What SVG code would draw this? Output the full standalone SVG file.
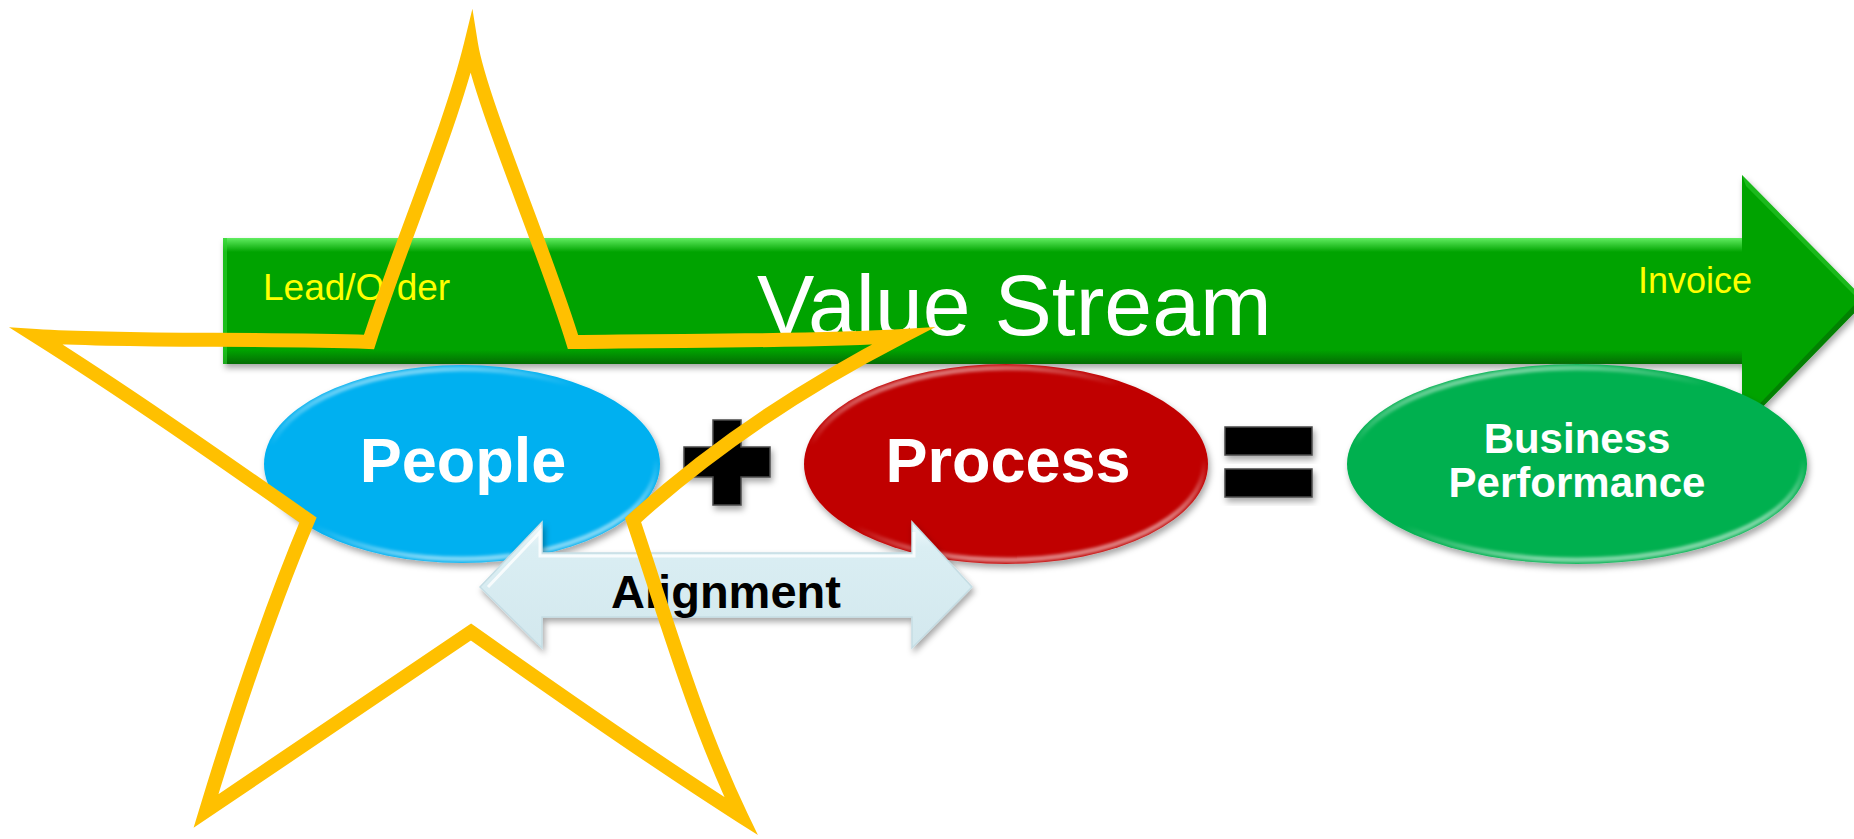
<svg xmlns="http://www.w3.org/2000/svg" width="1854" height="839" viewBox="0 0 1854 839">
  <defs>
    <filter id="shadow" x="-10%" y="-20%" width="120%" height="150%">
      <feDropShadow dx="2" dy="4" stdDeviation="3" flood-color="#000" flood-opacity="0.35"/>
    </filter>
    <filter id="soft" x="-10%" y="-10%" width="120%" height="120%">
      <feGaussianBlur stdDeviation="1.5"/>
    </filter>
    <linearGradient id="barTop" x1="0" y1="0" x2="0" y2="1">
      <stop offset="0" stop-color="#6CF56C" stop-opacity="0.9"/>
      <stop offset="1" stop-color="#6CF56C" stop-opacity="0"/>
    </linearGradient>
    <linearGradient id="barBottom" x1="0" y1="0" x2="0" y2="1">
      <stop offset="0" stop-color="#045F04" stop-opacity="0"/>
      <stop offset="1" stop-color="#045F04" stop-opacity="0.8"/>
    </linearGradient>
    <linearGradient id="rim" x1="0" y1="0" x2="0.4" y2="1">
      <stop offset="0" stop-color="#fff" stop-opacity="0.75"/>
      <stop offset="0.35" stop-color="#fff" stop-opacity="0"/>
      <stop offset="0.75" stop-color="#fff" stop-opacity="0"/>
      <stop offset="1" stop-color="#fff" stop-opacity="0.5"/>
    </linearGradient>
    <linearGradient id="alignFill" x1="0" y1="0" x2="0" y2="1">
      <stop offset="0" stop-color="#F2FAFC"/>
      <stop offset="0.2" stop-color="#DAEEF3"/>
      <stop offset="1" stop-color="#D3E8EE"/>
    </linearGradient>
    <style>
      .lbl { font-family: "Liberation Sans", Arial, sans-serif; }
      .node-text { font-family: "Liberation Sans", Arial, sans-serif; font-weight: bold; fill: #fff; text-anchor: middle; }
      .rim { fill: none; stroke: url(#rim); stroke-width: 5; filter: url(#soft); }
      .op { fill: #000; stroke: #4a4a4a; stroke-width: 1.5; filter: url(#shadow); }
    </style>
  </defs>

  <rect width="1854" height="839" fill="#fff"/>

  <!-- Value stream arrow -->
  <g id="value-stream">
    <path d="M223,238 H1742 V175 L1866,301 L1742,428 V364 H223 Z" fill="#06A306" filter="url(#shadow)"/>
    <rect x="223" y="238" width="1519" height="14" fill="url(#barTop)"/>
    <rect x="223" y="350" width="1519" height="14" fill="url(#barBottom)"/>
    <rect x="223" y="238" width="4" height="126" fill="#2ED02E" opacity="0.6"/>
    <path d="M1742,175 L1866,301 L1860,301 L1746,186 Z" fill="#35D035" opacity="0.5"/>
    <path d="M1742,428 L1866,301 L1858,301 L1746,418 Z" fill="#045F04" opacity="0.5"/>
    <text class="lbl" x="263" y="300" font-size="37" fill="#FFFF00">Lead/Order</text>
    <text class="lbl" x="757" y="335" font-size="86" fill="#fff">Value Stream</text>
    <text class="lbl" x="1638" y="293" font-size="36" fill="#FFFF00">Invoice</text>
  </g>

  <!-- People -->
  <g id="people">
    <ellipse cx="462" cy="464" rx="198" ry="99" fill="#00B0F0" filter="url(#shadow)"/>
    <ellipse class="rim" cx="462" cy="464" rx="194" ry="95"/>
    <text class="node-text" x="463" y="482" font-size="63">People</text>
  </g>

  <!-- Plus -->
  <g id="plus">
    <path class="op" d="M713,420 H741 V447 H770 V477 H741 V505 H713 V477 H684 V447 H713 Z"/>
  </g>

  <!-- Process -->
  <g id="process">
    <ellipse cx="1006" cy="464" rx="202" ry="100" fill="#C00000" filter="url(#shadow)"/>
    <ellipse class="rim" cx="1006" cy="464" rx="198" ry="96"/>
    <text class="node-text" x="1008" y="482" font-size="63">Process</text>
  </g>

  <!-- Equals -->
  <g id="equals">
    <rect class="op" x="1225" y="427" width="87" height="28"/>
    <rect class="op" x="1225" y="469" width="87" height="28"/>
  </g>

  <!-- Business Performance -->
  <g id="business-performance">
    <ellipse cx="1577" cy="464" rx="230" ry="100" fill="#00B050" filter="url(#shadow)"/>
    <ellipse class="rim" cx="1577" cy="464" rx="226" ry="96"/>
    <text class="node-text" x="1577" y="453" font-size="42">Business</text>
    <text class="node-text" x="1577" y="497" font-size="42">Performance</text>
  </g>

  <!-- Alignment double arrow -->
  <g id="connectors">
    <g id="alignment">
      <path d="M480,587 L542,522 V553 H912 V522 L972,587 L912,648 V617 H542 V648 Z" fill="url(#alignFill)" stroke="#C5DDE4" stroke-width="1.5" filter="url(#shadow)"/>
      <path d="M488,587 L540,532 V556 H914 V532" fill="none" stroke="#fff" stroke-width="3" opacity="0.8"/>
      <text class="lbl" x="726" y="608" font-size="47" font-weight="bold" fill="#000" text-anchor="middle">Alignment</text>
    </g>
  </g>

  <!-- Hand-drawn star outline -->
  <g id="star">
    <path d="M471,44 C480,100 545,250 573,342 C680,340 800,342 903,336 C808,385 715,445 633,520 C665,615 695,720 741,816 C650,758 560,695 471,632 C383,692 294,751 206,811 C236,712 268,615 308,520 C215,455 125,392 36,336 C130,342 250,338 369,342 C400,245 450,130 471,44 Z" fill="none" stroke="#FFC000" stroke-width="14" stroke-linejoin="miter" stroke-miterlimit="12"/>
  </g>
</svg>
